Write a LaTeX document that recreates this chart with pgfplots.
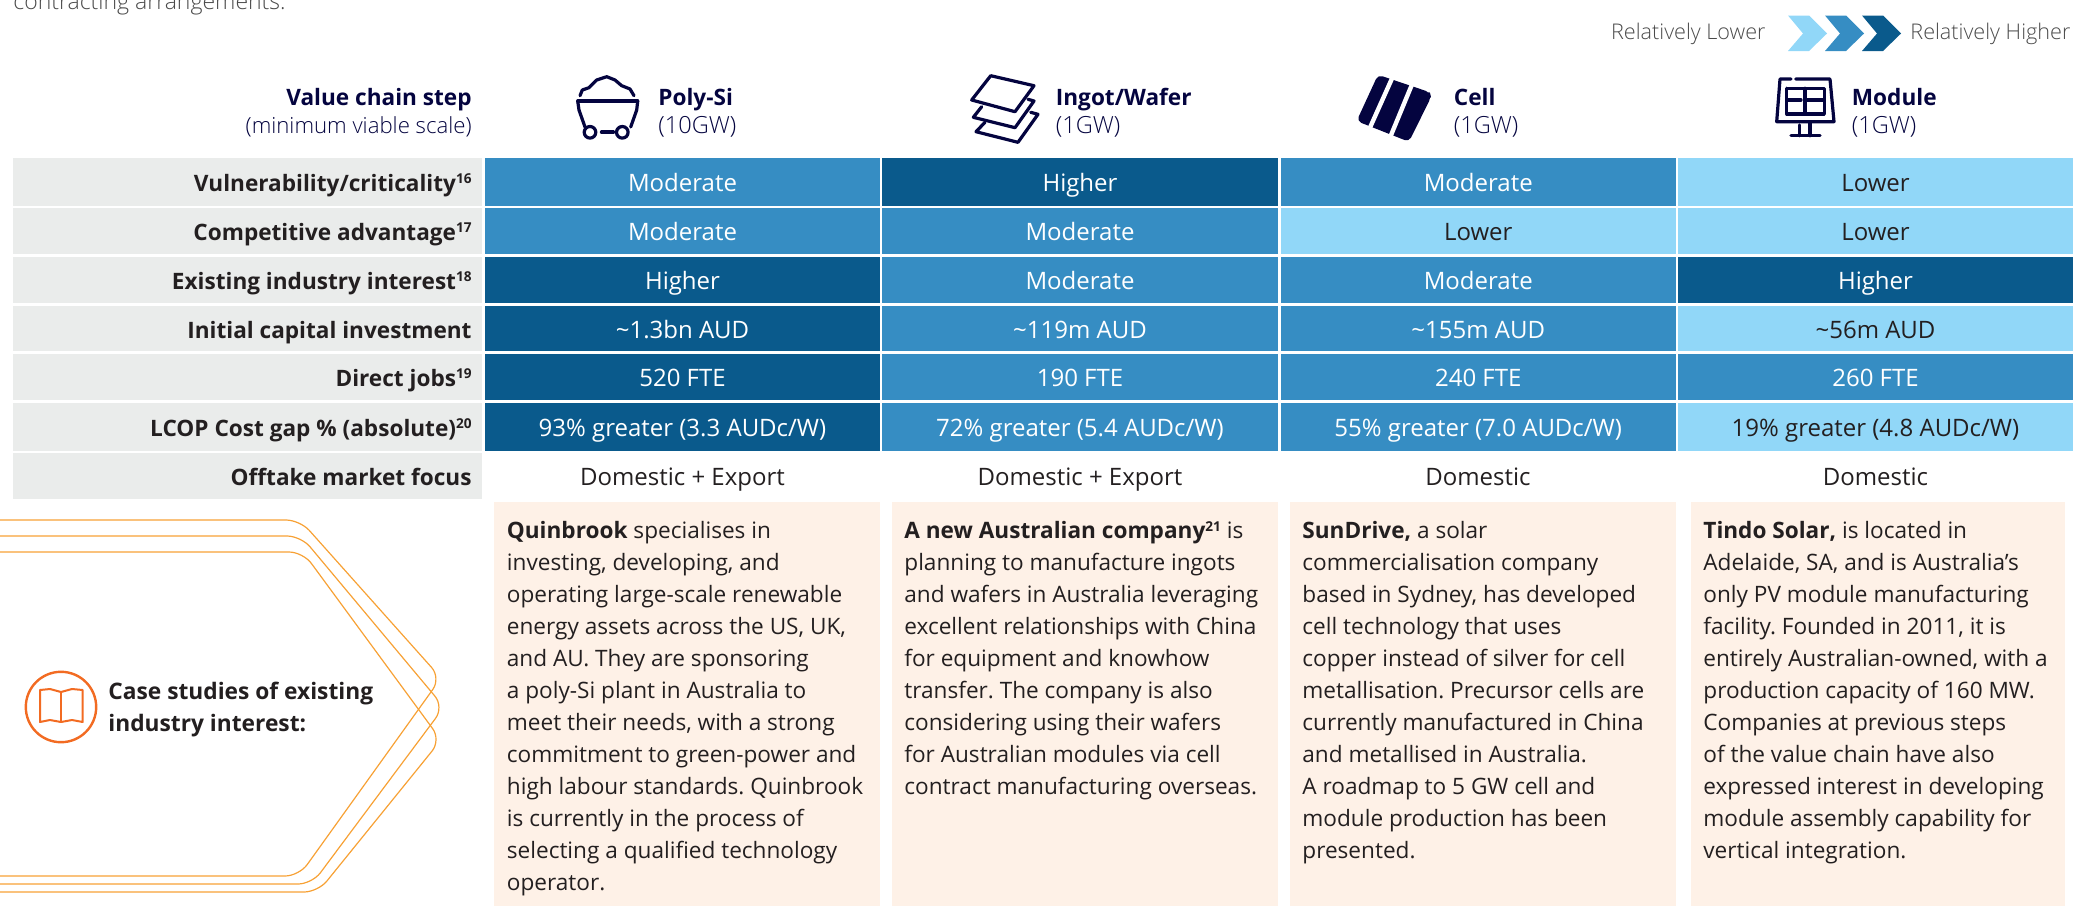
\documentclass[border=0pt]{standalone}
\usepackage{fontspec}
\setmainfont{Open Sans}
\newfontfamily\lightf{Open Sans Light}
\usepackage{pgfplots}
\pgfplotsset{compat=1.18}

\definecolor{dk}{HTML}{0A5A8C}
\definecolor{md}{HTML}{368DC3}
\definecolor{lt}{HTML}{91D7F8}
\definecolor{gry}{HTML}{EAECEB}
\definecolor{peach}{HTML}{FEF1E7}
\definecolor{navy}{HTML}{04043F}
\definecolor{ink}{HTML}{231F20}
\definecolor{soft}{HTML}{4A4A4A}
\definecolor{hexline}{HTML}{F7A135}
\definecolor{bookor}{HTML}{F26B22}
\colorlet{textdk}{white}
\colorlet{textmd}{white}
\colorlet{textlt}{ink}

\newcommand{\bodyf}{\fontsize{11.3}{16}\selectfont\frenchspacing}
\newcommand{\cellf}{\fontsize{12}{16}\selectfont}
\newcommand{\labf}{\fontsize{11.3}{16}\selectfont\bfseries}
\newcommand{\supn}[1]{\raisebox{3.8pt}{\fontsize{6.8}{7}\selectfont\bfseries #1}}

% filled box in picture pixels: x0 x1 y0 y1 colour
\newcommand{\Bx}[5]{\addplot[fill=#5,draw=none,forget plot] coordinates {(#1,#3)(#2,#3)(#2,#4)(#1,#4)} -- cycle;}
% table cell
\newcommand{\Cell}[6]{\Bx{#1}{#2}{#3}{#4}{#5}
  \node[anchor=base,inner sep=0pt,text=text#5,font=\cellf] at (axis cs:{(#1+#2)/2},{(#3+#4)/2+9.5}) {#6};}
% grey row label
\newcommand{\Lab}[3]{\Bx{13}{482}{#1}{#2}{gry}
  \node[anchor=base east,inner sep=0pt,text=ink,font=\labf] at (axis cs:472,{(#1+#2)/2+9.5}) {#3};}
% header of a column
\newcommand{\Head}[3]{\node[anchor=base west,inner sep=0pt,text=navy,font=\labf] at (axis cs:#1,105) {#2};
  \node[anchor=base west,inner sep=0pt,text=navy,font=\lightf\fontsize{11.8}{16}\selectfont] at (axis cs:#1,133) {#3};}
% panel text
\newcommand{\Panel}[2]{\node[anchor=north west,inner sep=0pt,align=left,text=ink,font=\bodyf] at (axis cs:#1,521) {#2};}
\newcommand{\Ln}[2][]{\addplot[navy,line width=1.6pt,line cap=round,line join=round,forget plot,#1] coordinates {#2};}
\newcommand{\Fl}[2]{\addplot[fill=#1,draw=none,forget plot] coordinates {#2} -- cycle;}

\begin{document}
\begin{tikzpicture}
\begin{axis}[
  width=1036.5pt, height=453pt, scale only axis,
  xmin=0, xmax=2073, ymin=0, ymax=906, y dir=reverse,
  hide axis, clip=true,
]
% cut-off line of text above
\node[anchor=base west,inner sep=0pt,text=soft,font=\lightf\fontsize{11.5}{16}\selectfont] at (axis cs:13,9) {contracting arrangements.};

% legend
\node[anchor=base east,inner sep=0pt,text=soft,font=\lightf\fontsize{10.8}{16}\selectfont] at (axis cs:1766,39.5) {Relatively Lower};
\node[anchor=base west,inner sep=0pt,text=soft,font=\lightf\fontsize{10.8}{16}\selectfont] at (axis cs:1910,39.5) {Relatively Higher};
\Fl{lt}{(1788,15.5)(1809,15.5)(1827,33.5)(1809,51)(1788,51)(1803,33.5)}
\Fl{md}{(1825,15.5)(1846,15.5)(1864,33.5)(1846,51)(1825,51)(1840,33.5)}
\Fl{dk}{(1862,15.5)(1883,15.5)(1901,33.5)(1883,51)(1862,51)(1877,33.5)}

% header
\node[anchor=base east,inner sep=0pt,text=navy,font=\labf] at (axis cs:472,105) {Value chain step};
\node[anchor=base east,inner sep=0pt,text=navy,font=\lightf\fontsize{11.1}{16}\selectfont] at (axis cs:472,133) {(minimum viable scale)};
\Head{658}{Poly-Si}{(10GW)}
\Head{1055.5}{Ingot/Wafer}{(1GW)}
\Head{1453.5}{Cell}{(1GW)}
\Head{1851.5}{Module}{(1GW)}

% cart icon
\Ln{(580,95.7)(582.3,90)(589,87.7)(596.7,80)(606.7,76.7)(615,80)(621.7,85.7)(630,89)(634,95.7)}
\Ln{(577.7,101)(637.7,101)}
\Ln{(577.7,101)(579,110)(585,127)}
\Ln{(637.7,101)(636.7,110)(630.7,127)}
\Ln[line width=1.9pt]{(601.7,132.3)(613.3,132.3)}
\addplot[only marks,mark=o,mark size=2.9pt,mark options={draw=navy,line width=1.6pt},forget plot] coordinates {(590,132.3)(622.3,132.3)};

% wafer icon
\Ln{(990.7,75.7)(1034,85.7)(1015,111.7)(971.7,100)(990.7,75.7)}
\Ln{(981.7,106.7)(973.3,117.3)(1015,127.7)(1034,101)(1028,99.3)}
\Ln{(985,122.3)(976,131.7)(1018,142.3)(1038,114.3)(1030.7,112.3)}

% cell icon
\addplot[fill=navy,draw=navy,line width=1pt,line join=round,rounded corners=2pt,forget plot] coordinates {(1378.5,76)(1429,93)(1430,97)(1408.5,140.5)(1358,120.5)} -- cycle;
\Ln[white,line width=2.2pt,line cap=butt]{(1394,74)(1368,132)}
\Ln[white,line width=2.2pt,line cap=butt]{(1413,82)(1389,140)}

% module icon
\Ln{(1791,79)(1780,79)(1776.7,121.7)(1834,121.7)(1830,79)(1795.7,79)}
\Ln{(1786.7,88.3)(1824.3,88.3)(1824.3,114)(1786.7,114)(1786.7,88.3)}
\Ln{(1805,88.3)(1805,114)}
\Ln{(1786.7,100)(1801,100)}
\Ln{(1805,100)(1824.3,100)}
\Ln{(1799.3,125)(1799.3,135.7)}
\Ln{(1810,122)(1810,135.7)}
\Ln{(1791,135.7)(1820,135.7)}

% table
\Lab{158}{206}{Vulnerability/criticality\supn{16}}
\Cell{485}{880}{158}{206}{md}{Moderate}
\Cell{882}{1278}{158}{206}{dk}{Higher}
\Cell{1280.5}{1676}{158}{206}{md}{Moderate}
\Cell{1678}{2073}{158}{206}{lt}{Lower}

\Lab{208}{254}{Competitive advantage\supn{17}}
\Cell{485}{880}{208}{254}{md}{Moderate}
\Cell{882}{1278}{208}{254}{md}{Moderate}
\Cell{1280.5}{1676}{208}{254}{lt}{Lower}
\Cell{1678}{2073}{208}{254}{lt}{Lower}

\Lab{257}{303}{Existing industry interest\supn{18}}
\Cell{485}{880}{257}{303}{dk}{Higher}
\Cell{882}{1278}{257}{303}{md}{Moderate}
\Cell{1280.5}{1676}{257}{303}{md}{Moderate}
\Cell{1678}{2073}{257}{303}{dk}{Higher}

\Lab{306}{351}{Initial capital investment}
\Cell{485}{880}{306}{351}{dk}{\textasciitilde 1.3bn AUD}
\Cell{882}{1278}{306}{351}{md}{\textasciitilde 119m AUD}
\Cell{1280.5}{1676}{306}{351}{md}{\textasciitilde 155m AUD}
\Cell{1678}{2073}{306}{351}{lt}{\textasciitilde 56m AUD}

\Lab{354}{400}{Direct jobs\supn{19}}
\Cell{485}{880}{354}{400}{dk}{520 FTE}
\Cell{882}{1278}{354}{400}{md}{190 FTE}
\Cell{1280.5}{1676}{354}{400}{md}{240 FTE}
\Cell{1678}{2073}{354}{400}{md}{260 FTE}

\Lab{403}{451}{LCOP Cost gap \% (absolute)\supn{20}}
\Cell{485}{880}{403}{451}{dk}{93\% greater (3.3 AUDc/W)}
\Cell{882}{1278}{403}{451}{md}{72\% greater (5.4 AUDc/W)}
\Cell{1280.5}{1676}{403}{451}{md}{55\% greater (7.0 AUDc/W)}
\Cell{1678}{2073}{403}{451}{lt}{19\% greater (4.8 AUDc/W)}

\Lab{453}{499}{Offtake market focus}
\node[anchor=base,inner sep=0pt,text=ink,font=\cellf] at (axis cs:682.5,485) {Domestic + Export};
\node[anchor=base,inner sep=0pt,text=ink,font=\cellf] at (axis cs:1080,485) {Domestic + Export};
\node[anchor=base,inner sep=0pt,text=ink,font=\cellf] at (axis cs:1478,485) {Domestic};
\node[anchor=base,inner sep=0pt,text=ink,font=\cellf] at (axis cs:1875.5,485) {Domestic};

% case study panels
\Bx{494}{880}{502}{906}{peach}
\Bx{892}{1278}{502}{906}{peach}
\Bx{1290}{1676}{502}{906}{peach}
\Bx{1691}{2065}{502}{906}{peach}
\Panel{506.5}{\textbf{Quinbrook} specialises in\\investing, developing, and\\operating large-scale renewable\\energy assets across the US, UK,\\and AU. They are sponsoring\\a poly-Si plant in Australia to\\meet their needs, with a strong\\commitment to green-power and\\high labour standards. Quinbrook\\is currently in the process of\\selecting a qualified technology\\operator.}
\Panel{904}{\textbf{A new Australian company}\supn{21} is\\planning to manufacture ingots\\and wafers in Australia leveraging\\excellent relationships with China\\for equipment and knowhow\\transfer. The company is also\\considering using their wafers\\for Australian modules via cell\\contract manufacturing overseas.}
\Panel{1302}{\textbf{SunDrive,} a solar\\commercialisation company\\based in Sydney, has developed\\cell technology that uses\\copper instead of silver for cell\\metallisation. Precursor cells are\\currently manufactured in China\\and metallised in Australia.\\A roadmap to 5 GW cell and\\module production has been\\presented.}
\Panel{1703}{\textbf{Tindo Solar,} is located in\\Adelaide, SA, and is Australia’s\\only PV module manufacturing\\facility. Founded in 2011, it is\\entirely Australian-owned, with a\\production capacity of 160 MW.\\Companies at previous steps\\of the value chain have also\\expressed interest in developing\\module assembly capability for\\vertical integration.}

% chevrons on the left
\addplot[hexline,line width=0.6pt,rounded corners=7pt,forget plot] coordinates {(-10,520)(300,520)(441,678)(299,876)(-10,876)};
\addplot[hexline,line width=0.6pt,rounded corners=7pt,forget plot] coordinates {(-10,536)(301,536)(444,707)(312,884)(-10,884)};
\addplot[hexline,line width=0.6pt,rounded corners=7pt,forget plot] coordinates {(-10,552)(303,552)(441,740)(318,892)(-10,892)};

% book icon
\addplot[only marks,mark=o,mark size=17.6pt,mark options={draw=bookor,line width=1.2pt},forget plot] coordinates {(61,707)};
\addplot[bookor,line width=1pt,line join=round,forget plot] coordinates {(40,690)(50,689)(61,692)(72,689)(82.7,690)(82.7,722)(72,720)(61,722)(50,720)(40,722)} -- cycle;
\addplot[bookor,line width=1pt,forget plot] coordinates {(61,692)(61,722)};
\node[anchor=north west,inner sep=0pt,align=left,text=ink,font=\fontsize{11.37}{15.6}\selectfont\bfseries] at (axis cs:108,682) {Case studies of existing\\industry interest:};
\end{axis}
\end{tikzpicture}
\end{document}
